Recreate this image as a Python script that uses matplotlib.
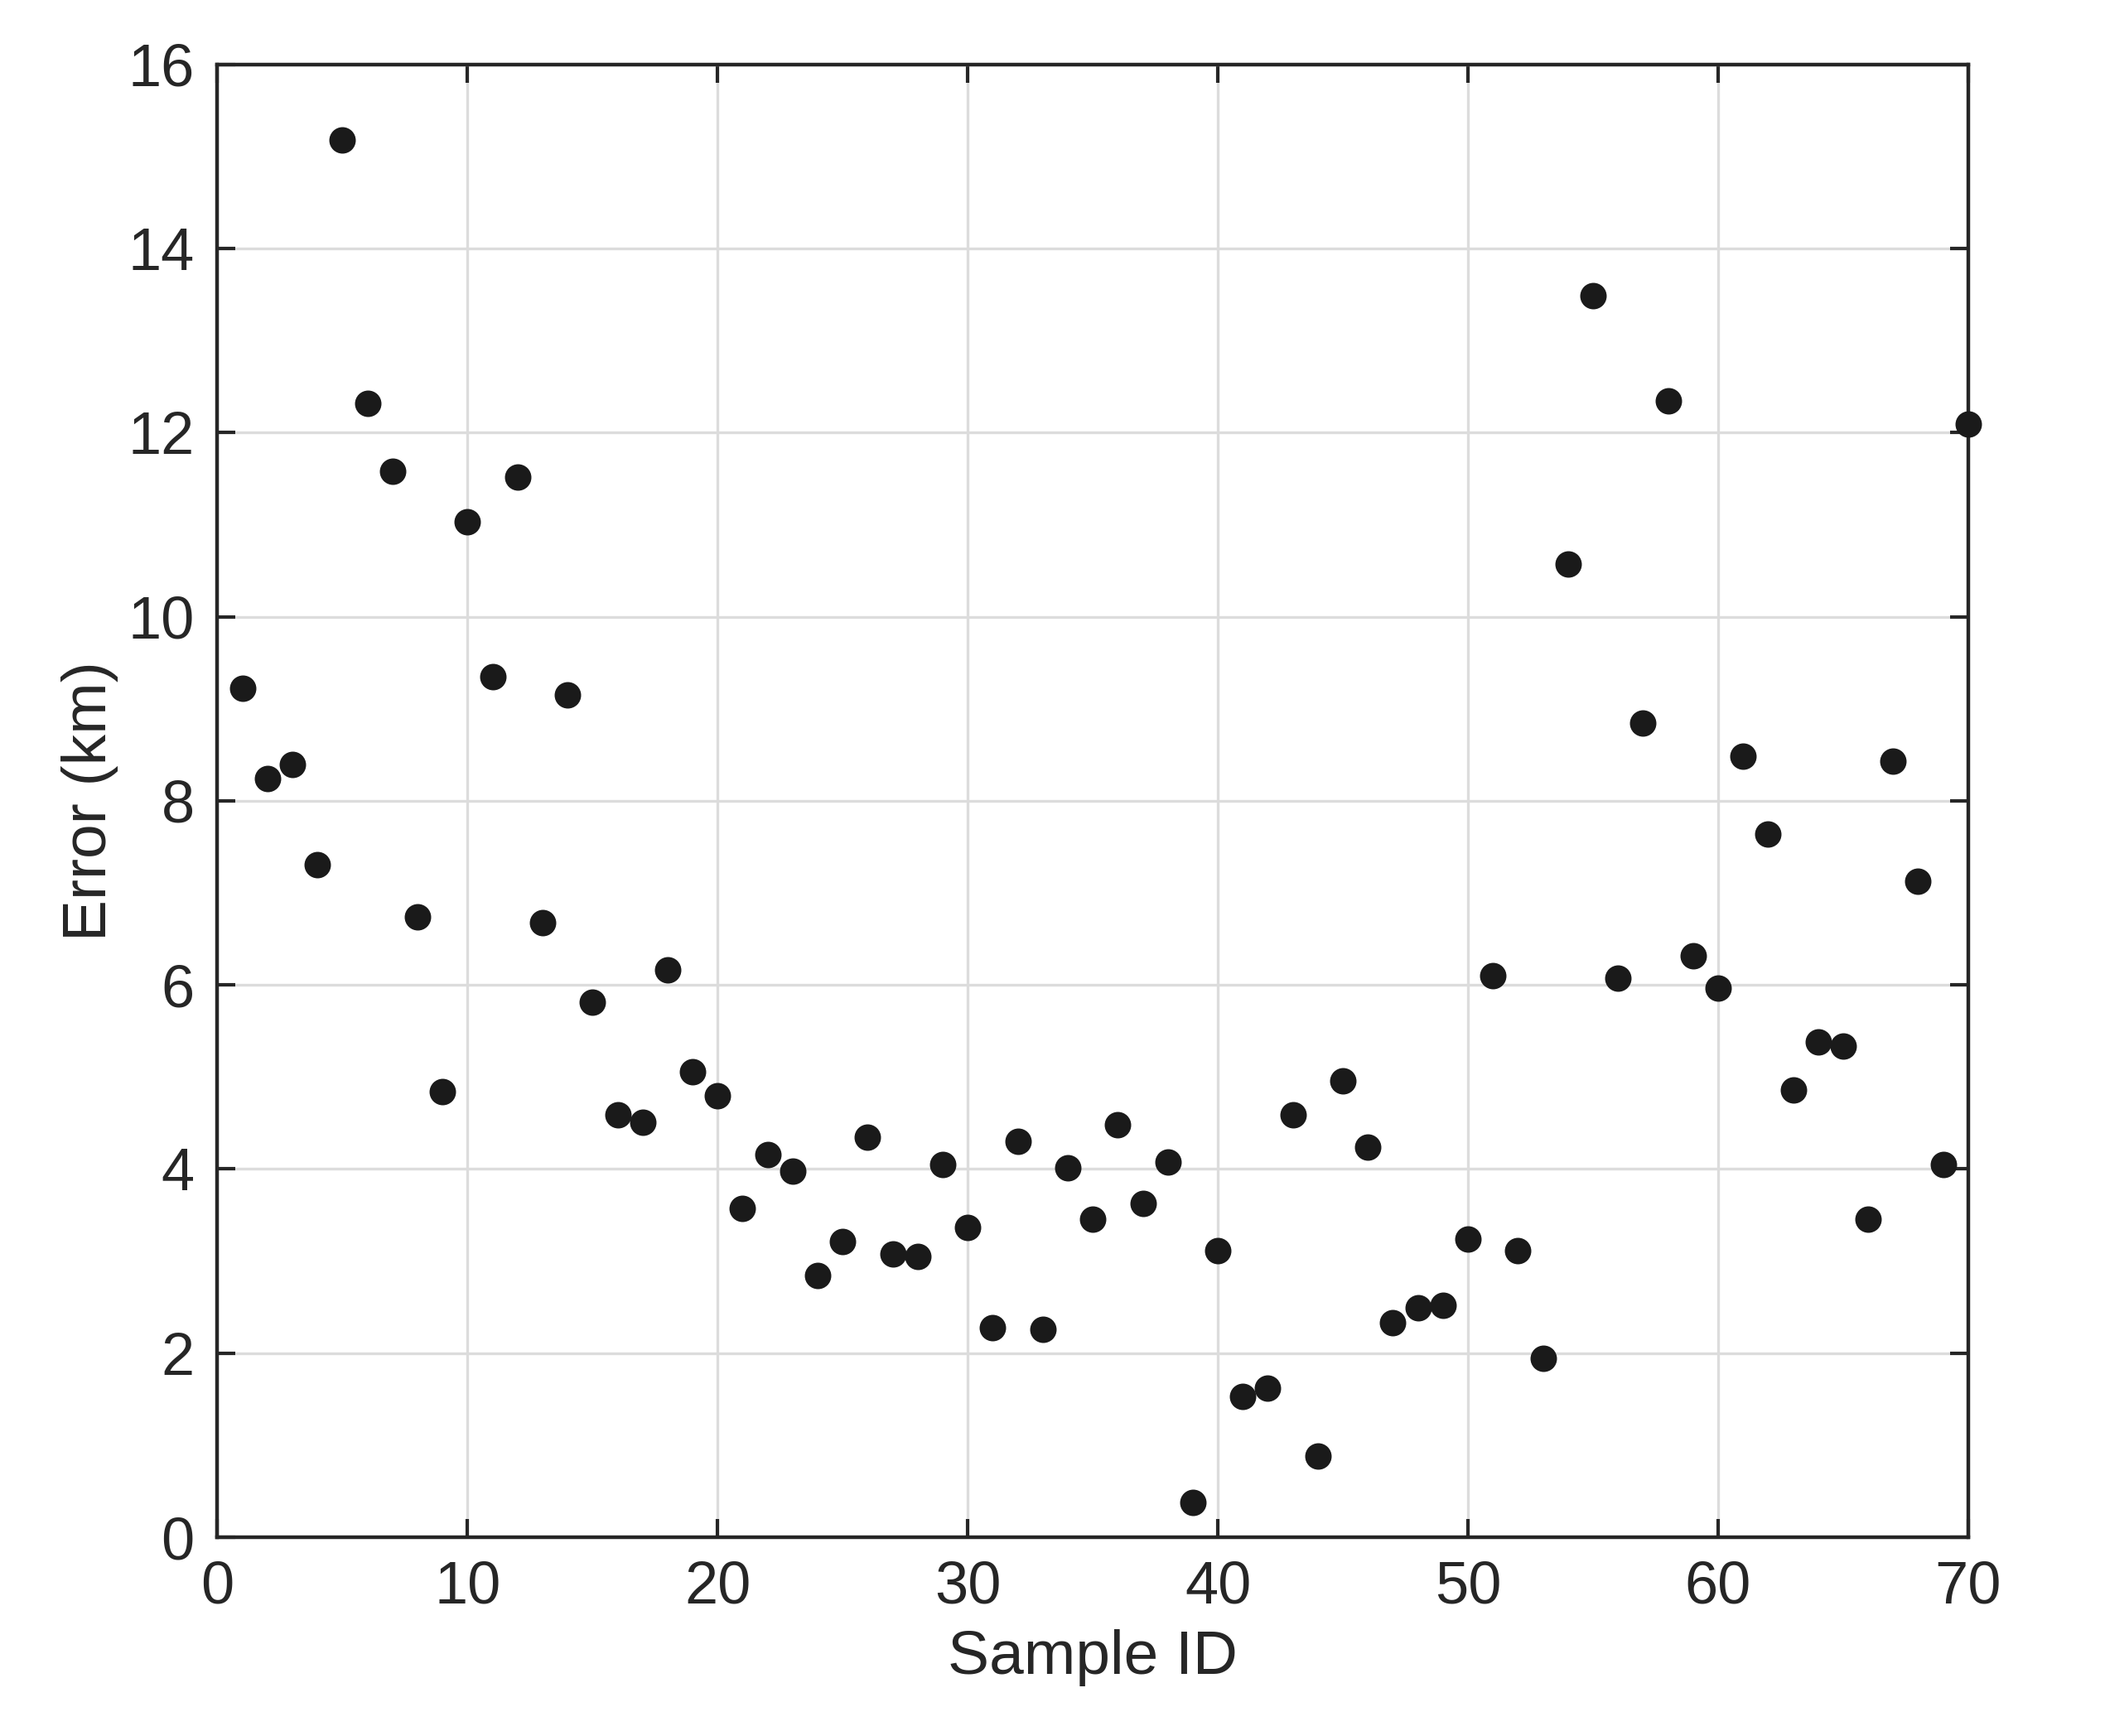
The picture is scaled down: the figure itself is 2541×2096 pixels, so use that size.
"""Scatter of localisation error per sample, MATLAB-like styling."""

import matplotlib

matplotlib.use("Agg")
import matplotlib.pyplot as plt
import numpy as np

sample_ids = np.arange(1, 71)
error_km = [
    9.22, 8.24, 8.40, 7.31, 15.18, 12.32, 11.58, 6.74, 4.84, 11.03,
    9.35, 11.52, 6.68, 9.15, 5.81, 4.59, 4.51, 6.16, 5.06, 4.80,
    3.57, 4.16, 3.98, 2.84, 3.21, 4.35, 3.08, 3.05, 4.05, 3.37,
    2.28, 4.30, 2.26, 4.01, 3.46, 4.48, 3.63, 4.08, 0.38, 3.11,
    1.53, 1.62, 4.59, 0.88, 4.96, 4.24, 2.33, 2.49, 2.52, 3.24,
    6.10, 3.11, 1.94, 10.57, 13.49, 6.07, 8.85, 12.35, 6.32, 5.97,
    8.49, 7.64, 4.86, 5.38, 5.34, 3.46, 8.43, 7.13, 4.05, 12.09,
]
x_ticks = list(range(0, 71, 10))
y_ticks = list(range(0, 17, 2))

plt.rcParams["font.family"] = ["Liberation Sans", "DejaVu Sans"]
text_color = "#262626"

fig = plt.figure(figsize=(2541 / 200, 2096 / 200), dpi=200)
ax = fig.add_axes([0.1033, 0.1145, 0.8317, 0.8483])

ax.plot(sample_ids, error_km, linestyle="none", marker="o",
        markersize=10.5, color="#1a1a1a", zorder=3, clip_on=False)

ax.set_xlim(0, 70)
ax.set_ylim(0, 16)
ax.set_xticks(x_ticks)
ax.set_yticks(y_ticks)
ax.grid(True, color="#dcdcdc", linewidth=1.2)
ax.set_axisbelow(True)

for spine in ax.spines.values():
    spine.set_color(text_color)
    spine.set_linewidth(1.6)

ax.tick_params(direction="in", top=True, right=True, length=8, width=1.5,
               color=text_color, labelcolor=text_color, labelsize=26, pad=10)
ax.set_xlabel("Sample ID", fontsize=27, color=text_color, labelpad=6)
ax.set_ylabel("Error (km)", fontsize=27, color=text_color, labelpad=4)

fig.savefig("out.png", dpi=200, facecolor="white")
